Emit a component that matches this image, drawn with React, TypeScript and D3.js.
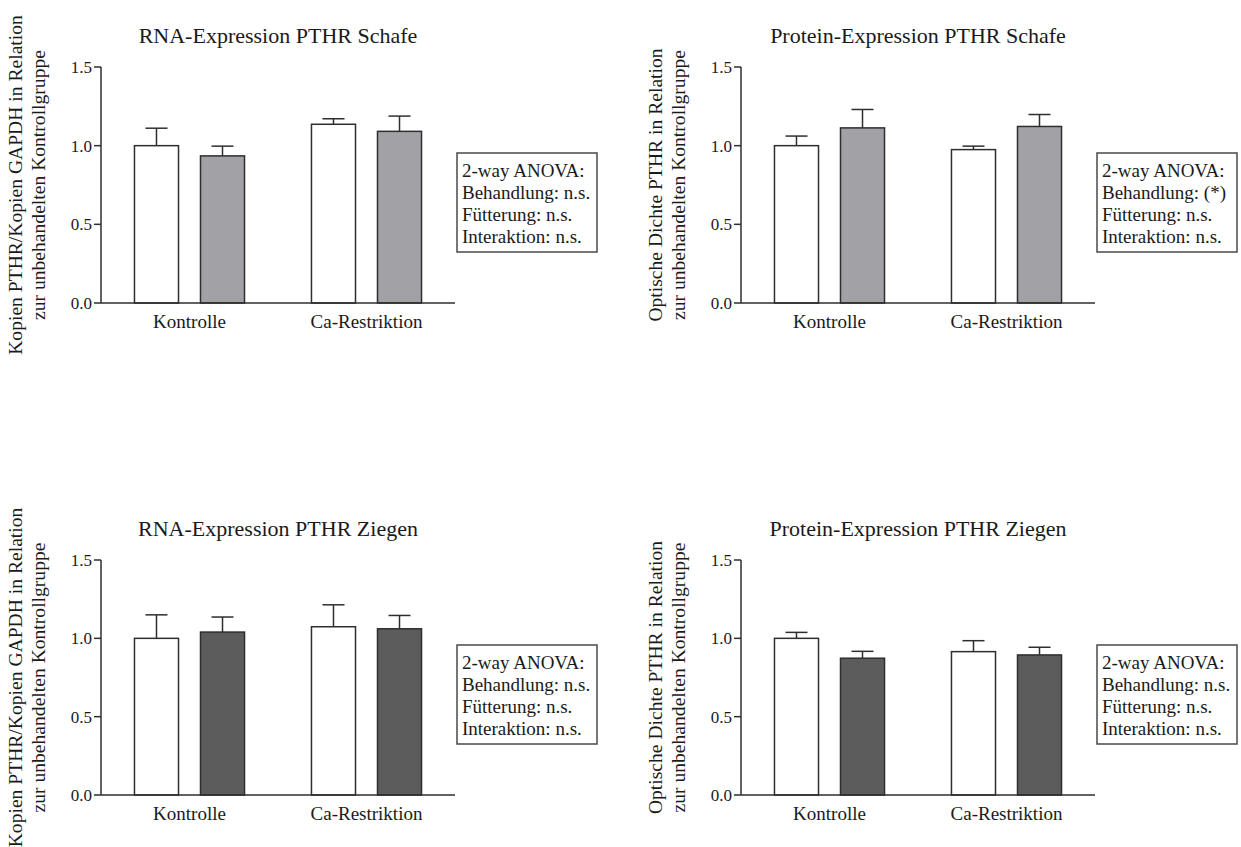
import React from 'react';
import * as d3 from 'd3';

// Groups on the x axis and the two treatment series
const categories = ['Kontrolle', 'Ca-Restriktion'];
const seriesKeys = ['unbehandelt', 'behandelt'];
const yTicks = [0, 0.5, 1.0, 1.5];
const anovaHeader = '2-way ANOVA:';

// RNA-Expression PTHR Schafe (mean, SEM upward)
const rnaSchafeUnbehandelt = [1.0, 1.136];
const rnaSchafeBehandelt = [0.935, 1.091];
const rnaSchafeSemUnbehandelt = [0.111, 0.035];
const rnaSchafeSemBehandelt = [0.062, 0.097];
const rnaSchafeAnova = ['Behandlung: n.s.', 'Fütterung: n.s.', 'Interaktion: n.s.'];

// Protein-Expression PTHR Schafe
const protSchafeUnbehandelt = [1.0, 0.975];
const protSchafeBehandelt = [1.113, 1.122];
const protSchafeSemUnbehandelt = [0.061, 0.022];
const protSchafeSemBehandelt = [0.117, 0.076];
const protSchafeAnova = ['Behandlung: (*)', 'Fütterung: n.s.', 'Interaktion: n.s.'];

// RNA-Expression PTHR Ziegen
const rnaZiegenUnbehandelt = [1.0, 1.074];
const rnaZiegenBehandelt = [1.04, 1.061];
const rnaZiegenSemUnbehandelt = [0.15, 0.14];
const rnaZiegenSemBehandelt = [0.096, 0.085];
const rnaZiegenAnova = ['Behandlung: n.s.', 'Fütterung: n.s.', 'Interaktion: n.s.'];

// Protein-Expression PTHR Ziegen
const protZiegenUnbehandelt = [1.0, 0.915];
const protZiegenBehandelt = [0.873, 0.894];
const protZiegenSemUnbehandelt = [0.038, 0.07];
const protZiegenSemBehandelt = [0.044, 0.049];
const protZiegenAnova = ['Behandlung: n.s.', 'Fütterung: n.s.', 'Interaktion: n.s.'];

const rnaLabel = ['Kopien PTHR/Kopien GAPDH in Relation', 'zur unbehandelten Kontrollgruppe'];
const protLabel = ['Optische Dichte PTHR in Relation', 'zur unbehandelten Kontrollgruppe'];

const FONT = "'Liberation Serif', 'Times New Roman', Times, serif";
const TEXT = '#1a1a1a';
const LINE = '#2e2e2e';
const SHEEP_FILL = '#a2a2a6';
const GOAT_FILL = '#5c5c5c';

type PanelProps = {
  title: string;
  yLabel: string[];
  means: number[][];
  sems: number[][];
  anova: string[];
  fill: string;
  left: number;
  top: number;
  bottom: number;
};

const AXIS_LEN = 354;

function Panel({ title, yLabel, means, sems, anova, fill, left, top, bottom }: PanelProps) {
  const right = left + AXIS_LEN;
  const y = d3.scaleLinear().domain([0, 1.5]).range([bottom, top]);
  const x0 = d3.scaleBand<string>().domain(categories).range([left, right]).padding(0);
  const x1 = d3
    .scaleBand<string>()
    .domain(seriesKeys)
    .range([0, x0.bandwidth()])
    .paddingInner(0.333)
    .paddingOuter(0.507);
  const fills = ['#ffffff', fill];
  const midY = (top + bottom) / 2;
  const boxX = right + 2;
  const boxTop = y(0) - 150;
  const boxH = 99;
  const lines = [anovaHeader, ...anova];

  return (
    <g>
      <text
        x={(left + right) / 2}
        y={top - 24}
        textAnchor="middle"
        fontSize={22}
        fill={TEXT}
        fontFamily={FONT}
      >
        {title}
      </text>

      {/* y axis label, two rotated lines */}
      {yLabel.map((t, i) => (
        <text
          key={t}
          transform={`translate(${left - 79 + i * 23},${midY}) rotate(-90)`}
          textAnchor="middle"
          fontSize={19.6}
          fill={TEXT}
          fontFamily={FONT}
        >
          {t}
        </text>
      ))}

      {/* bars with upward error bars */}
      {categories.map((c, ci) =>
        seriesKeys.map((s, si) => {
          const m = means[si][ci];
          const e = sems[si][ci];
          const bx = (x0(c) as number) + (x1(s) as number);
          const bw = x1.bandwidth();
          const cx = bx + bw / 2;
          return (
            <g key={c + s}>
              <line x1={cx} x2={cx} y1={y(m)} y2={y(m + e)} stroke={LINE} strokeWidth={1.5} />
              <line x1={cx - bw / 4} x2={cx + bw / 4} y1={y(m + e)} y2={y(m + e)} stroke={LINE} strokeWidth={1.5} />
              <rect
                x={bx}
                y={y(m)}
                width={bw}
                height={y(0) - y(m)}
                fill={fills[si]}
                stroke={LINE}
                strokeWidth={1.5}
              />
            </g>
          );
        })
      )}

      {/* axes */}
      <line x1={left} x2={left} y1={y(1.5)} y2={y(0)} stroke={LINE} strokeWidth={1.5} />
      <line x1={left} x2={right} y1={y(0)} y2={y(0)} stroke={LINE} strokeWidth={1.5} />
      {yTicks.map((t) => (
        <g key={t}>
          <line x1={left - 7} x2={left} y1={y(t)} y2={y(t)} stroke={LINE} strokeWidth={1.5} />
          <text
            x={left - 9}
            y={y(t)}
            dy="0.35em"
            textAnchor="end"
            fontSize={17}
            fill={TEXT}
            fontFamily={FONT}
          >
            {d3.format('.1f')(t)}
          </text>
        </g>
      ))}
      {categories.map((c) => (
        <text
          key={c}
          x={(x0(c) as number) + x0.bandwidth() / 2}
          y={y(0) + 25}
          textAnchor="middle"
          fontSize={19}
          fill={TEXT}
          fontFamily={FONT}
        >
          {c}
        </text>
      ))}

      {/* statistics box */}
      <rect x={boxX} y={boxTop} width={140} height={boxH} fill="#ffffff" stroke="#4a4a4a" strokeWidth={1.5} />
      {lines.map((t, i) => (
        <text
          key={t + i}
          x={boxX + 5}
          y={boxTop + 23.5 + i * 22.2}
          fontSize={19}
          fill={TEXT}
          fontFamily={FONT}
        >
          {t}
        </text>
      ))}
    </g>
  );
}

export default function App() {
  return (
    <svg
      width={1241}
      height={847}
      style={{ position: 'absolute', left: 0, top: 0, background: '#ffffff' }}
    >
      <rect width={1241} height={847} fill="#ffffff" />
      <Panel
        title="RNA-Expression PTHR Schafe"
        yLabel={rnaLabel}
        means={[rnaSchafeUnbehandelt, rnaSchafeBehandelt]}
        sems={[rnaSchafeSemUnbehandelt, rnaSchafeSemBehandelt]}
        anova={rnaSchafeAnova}
        fill={SHEEP_FILL}
        left={101}
        top={67}
        bottom={303}
      />
      <Panel
        title="Protein-Expression PTHR Schafe"
        yLabel={protLabel}
        means={[protSchafeUnbehandelt, protSchafeBehandelt]}
        sems={[protSchafeSemUnbehandelt, protSchafeSemBehandelt]}
        anova={protSchafeAnova}
        fill={SHEEP_FILL}
        left={741}
        top={67}
        bottom={303}
      />
      <Panel
        title="RNA-Expression PTHR Ziegen"
        yLabel={rnaLabel}
        means={[rnaZiegenUnbehandelt, rnaZiegenBehandelt]}
        sems={[rnaZiegenSemUnbehandelt, rnaZiegenSemBehandelt]}
        anova={rnaZiegenAnova}
        fill={GOAT_FILL}
        left={101}
        top={560}
        bottom={795}
      />
      <Panel
        title="Protein-Expression PTHR Ziegen"
        yLabel={protLabel}
        means={[protZiegenUnbehandelt, protZiegenBehandelt]}
        sems={[protZiegenSemUnbehandelt, protZiegenSemBehandelt]}
        anova={protZiegenAnova}
        fill={GOAT_FILL}
        left={741}
        top={560}
        bottom={795}
      />
    </svg>
  );
}
